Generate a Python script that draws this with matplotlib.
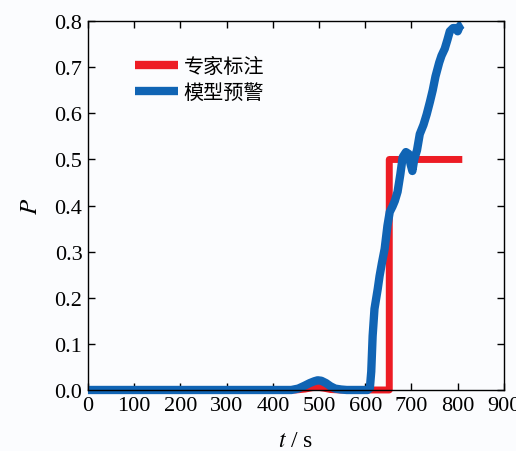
import matplotlib.pyplot as plt

plt.rcParams['font.family'] = ['Liberation Serif', 'Noto Sans CJK SC']
plt.rcParams['mathtext.fontset'] = 'stix'

# 专家标注
expert_t = [0, 450, 470, 485, 497, 510, 525, 545, 652, 652, 810]
expert_p = [0, 0, 0.002, 0.005, 0.006, 0.004, 0.001, 0, 0, 0.5, 0.5]

# 模型预警
model_t = [0, 440, 455, 468, 480, 490, 497, 505, 515, 525, 535, 548, 560, 605,
           610, 613, 616, 620, 627, 631, 636, 642, 648, 653, 659, 664, 670, 676,
           681, 688, 694, 698, 702, 706, 712, 718, 726, 733, 740, 746, 752, 760,
           765, 772, 778, 783, 790, 796, 800, 805, 810]
model_p = [0, 0, 0.003, 0.009, 0.015, 0.019, 0.021, 0.02, 0.015, 0.008, 0.003, 0.001, 0, 0,
           0.004, 0.04, 0.117, 0.176, 0.219, 0.247, 0.275, 0.306, 0.356, 0.386, 0.398, 0.41, 0.43, 0.468,
           0.505, 0.516, 0.512, 0.49, 0.475, 0.5, 0.52, 0.555, 0.575, 0.598, 0.625, 0.65, 0.68, 0.71,
           0.725, 0.74, 0.76, 0.778, 0.785, 0.785, 0.778, 0.79, 0.793]

xticks = list(range(0, 901, 100))
yticks = [0.0, 0.1, 0.2, 0.3, 0.4, 0.5, 0.6, 0.7, 0.8]

fig = plt.figure(figsize=(5.16, 4.52), dpi=100, facecolor='#fbfcfe')
ax = fig.add_axes([0.1705, 0.135, 0.806, 0.816])
ax.set_facecolor('#fbfcfe')

ax.plot(expert_t, expert_p, color='#ed1c24', lw=5, solid_capstyle='butt',
        solid_joinstyle='round', clip_on=False, label='专家标注')
ax.plot(model_t, model_p, color='#1064b4', lw=6, solid_capstyle='butt',
        solid_joinstyle='round', clip_on=False, label='模型预警')

ax.set_xlim(0, 900)
ax.set_ylim(0, 0.8)
ax.set_xticks(xticks)
ax.set_yticks(yticks)
ax.set_yticklabels([f'{v:.1f}' for v in yticks])
ax.tick_params(direction='in', top=True, right=True, length=5, width=1,
               labelsize=16, pad=4)
for s in ax.spines.values():
    s.set_linewidth(1)

ax.set_xlabel('$t$ / s', fontsize=17, labelpad=11)
ax.set_ylabel('$P$', fontsize=18, labelpad=9)

leg = ax.legend(loc='upper left', bbox_to_anchor=(0.07, 0.955), frameon=False,
                prop={'family': ['Noto Sans CJK SC'], 'size': 14.5},
                handlelength=2.1, handletextpad=0.3, labelspacing=0.25)
for h in leg.get_lines():
    h.set_linewidth(6)

fig.savefig('out.png', dpi=100, facecolor=fig.get_facecolor())
